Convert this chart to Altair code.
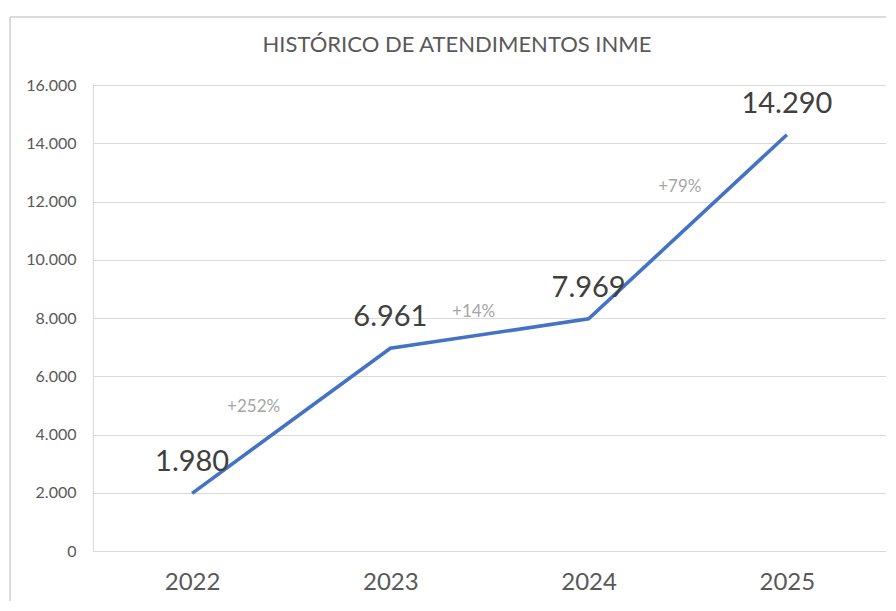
import json
import altair as alt
import pandas as pd

years = ["2022", "2023", "2024", "2025"]
values = [1980, 6961, 7969, 14290]
value_labels = ["1.980", "6.961", "7.969", "14.290"]
growth_labels = ["+252%", "+14%", "+79%"]
growth_x = [0.31, 1.42, 2.46]
growth_y = [4945, 8207, 12500]
title_text = "HISTÓRICO DE ATENDIMENTOS INME"

df = pd.DataFrame({"i": list(range(len(years))), "year": years, "v": values, "lab": value_labels})
gdf = pd.DataFrame({"i": growth_x, "v": growth_y, "lab": growth_labels})
tdf = pd.DataFrame({"t": [title_text]})

FONT = "Lato"
x_enc = alt.X("i:Q", scale=alt.Scale(domain=[-0.5, 3.5], nice=False, zero=False),
              axis=alt.Axis(values=list(range(len(years))),
                            labelExpr=json.dumps(years) + "[datum.value]",
                            title=None, grid=False, domain=False, ticks=False,
                            labelFontSize=24, labelColor="#595959", labelFont=FONT,
                            labelPadding=19))
y_enc = alt.Y("v:Q", scale=alt.Scale(domain=[0, 16000], nice=False),
              axis=alt.Axis(values=list(range(0, 16001, 2000)),
                            labelExpr="replace(format(datum.value, ','), ',', '.')",
                            title=None, domain=False, ticks=False,
                            gridColor="#d9d9d9", gridWidth=1,
                            labelFontSize=16, labelColor="#595959", labelFont=FONT,
                            labelPadding=17))

line = alt.Chart(df).mark_line(color="#4472C4", strokeWidth=3.6).encode(x=x_enc, y=y_enc)
labels = alt.Chart(df).mark_text(fontSize=29, color="#404040", font=FONT, dy=-31,
                                 baseline="middle").encode(x="i:Q", y="v:Q", text="lab:N")
growth = alt.Chart(gdf).mark_text(fontSize=17, color="#a6a6a6", font=FONT,
                                  baseline="middle").encode(x="i:Q", y="v:Q", text="lab:N")
title = alt.Chart(tdf).mark_text(fontSize=22, color="#595959", font=FONT,
                                 baseline="middle", align="center").encode(
    x=alt.value(364), y=alt.value(-40), text="t:N")

border_left = alt.Chart(df).mark_rule(color="#d9d9d9", strokeWidth=1).encode(
    x=alt.value(-83), y=alt.value(-68), y2=alt.value(540))
border_top = alt.Chart(df).mark_rule(color="#d9d9d9", strokeWidth=1).encode(
    x=alt.value(-83), x2=alt.value(820), y=alt.value(-68))

chart = alt.layer(border_left, border_top, line, labels, growth, title).properties(
    width=793, height=466,
    autosize=alt.AutoSizeParams(type="none"),
    padding={"left": 85, "top": 77, "right": 0, "bottom": 50},
).configure_view(stroke=None).configure(background="white")

chart.save("out.html", embed_options={"renderer": "svg", "actions": False})
